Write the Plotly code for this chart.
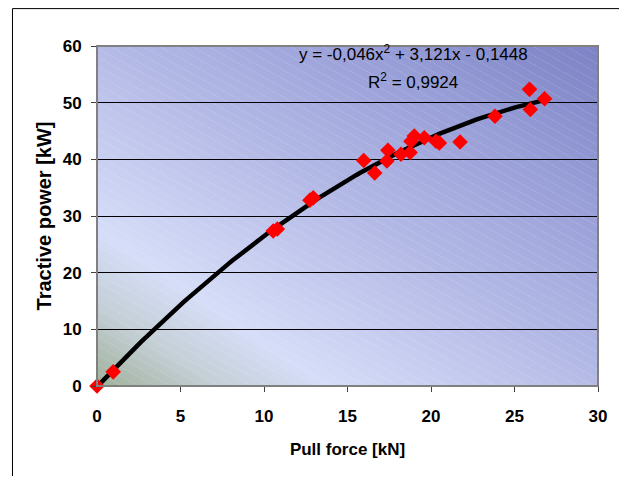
import base64
import numpy as np
import plotly.graph_objects as go

# ---- data ----
pull_force = [0, 0.97, 10.55, 10.8, 12.75, 12.95, 15.97, 16.63, 17.36, 17.42, 18.2,
              18.75, 18.8, 19.0, 19.6, 20.3, 20.5, 21.74, 23.83, 25.9, 25.95, 26.8]
tractive_power = [0, 2.5, 27.35, 27.7, 32.8, 33.2, 39.8, 37.6, 39.7, 41.6, 40.9,
                  41.2, 43.2, 44.1, 43.8, 43.2, 42.9, 43.05, 47.6, 52.35, 48.8, 50.7]
# polynomial trendline coefficients shown on the chart
coef_a, coef_b, coef_c = -0.046, 3.121, -0.1448
eq_text = "y = -0,046x<sup>2</sup> + 3,121x - 0,1448"
r2_text = "R<sup>2</sup> = 0,9924"
x_ticks = [0, 5, 10, 15, 20, 25, 30]
y_ticks = [0, 10, 20, 30, 40, 50, 60]

fit_x = np.linspace(0, max(pull_force), 120)
fit_y = coef_a * fit_x ** 2 + coef_b * fit_x + coef_c

# ---- background (gradient + diagonal hatching) as an SVG image ----
W, H = 504, 340
lines = []
slope = 0.55
step = 9
for c in range(-int(W * slope) - step, H + step, step):
    lines.append(f'<line x1="0" y1="{c}" x2="{W}" y2="{c + W * slope:.1f}" '
                 'stroke="#ffffff" stroke-opacity="0.2" stroke-width="1" stroke-dasharray="1.5,1"/>')
svg = f'''<svg xmlns="http://www.w3.org/2000/svg" width="{W}" height="{H}" viewBox="0 0 {W} {H}">
<defs><linearGradient id="g" x1="0" y1="1" x2="1" y2="0">
<stop offset="0" stop-color="#9fb09a"/>
<stop offset="0.12" stop-color="#c4cfd6"/>
<stop offset="0.23" stop-color="#d6ddf8"/>
<stop offset="0.5" stop-color="#b5bbe6"/>
<stop offset="0.75" stop-color="#9aa0d8"/>
<stop offset="1" stop-color="#7c82c4"/>
</linearGradient></defs>
<rect x="0" y="0" width="{W}" height="{H}" fill="url(#g)"/>
{''.join(lines)}
</svg>'''
bg_src = "data:image/svg+xml;base64," + base64.b64encode(svg.encode()).decode()

FONT = "Liberation Sans, Arial, sans-serif"

fig = go.Figure()
fig.add_trace(go.Scatter(x=fit_x, y=fit_y, mode="lines",
                         line=dict(color="black", width=4.5), hoverinfo="skip",
                         cliponaxis=False))
fig.add_trace(go.Scatter(x=pull_force, y=tractive_power, mode="markers",
                         marker=dict(symbol="diamond", size=12, color="#ff0000"),
                         cliponaxis=False))

fig.add_layout_image(dict(source=bg_src, xref="paper", yref="paper", x=0, y=1,
                          sizex=1, sizey=1, sizing="stretch", layer="below"))

fig.add_annotation(x=18.95, y=58.8, text=eq_text, showarrow=False,
                   font=dict(family=FONT, size=17, color="black"))
fig.add_annotation(x=18.95, y=53.8, text=r2_text, showarrow=False,
                   font=dict(family=FONT, size=17, color="black"))

# plot-area border
fig.add_shape(type="rect", xref="paper", yref="paper", x0=0, y0=0, x1=1, y1=1,
              line=dict(color="#808080", width=2), layer="above")
# outer chart border (only top and left edges are visible in the frame)
fig.add_shape(type="line", xref="paper", yref="paper", x0=-0.1687, y0=1.110, x1=1.2, y1=1.110,
              line=dict(color="black", width=1))
fig.add_shape(type="line", xref="paper", yref="paper", x0=-0.1687, y0=-0.4, x1=-0.1687, y1=1.110,
              line=dict(color="black", width=1))

fig.update_layout(
    width=611, height=468,
    margin=dict(l=89, r=18, t=38, b=90),
    paper_bgcolor="white", plot_bgcolor="rgba(0,0,0,0)",
    showlegend=False,
    font=dict(family=FONT, color="black"),
)
fig.update_xaxes(range=[0, 30], tickvals=x_ticks, ticks="outside", ticklen=5,
                 tickcolor="#404040", showgrid=False, zeroline=False,
                 showline=True, linecolor="#404040", linewidth=1,
                 tickfont=dict(family=FONT, size=17, weight="bold"),
                 ticklabelstandoff=10,
                 title=dict(text="<b>Pull force [kN]</b>", font=dict(family=FONT, size=17),
                            standoff=17))
fig.update_yaxes(range=[0, 60], tickvals=y_ticks, ticks="outside", ticklen=5,
                 tickcolor="#404040", showgrid=True, gridcolor="black", gridwidth=1,
                 zeroline=False, showline=True, linecolor="#404040", linewidth=1,
                 tickfont=dict(family=FONT, size=17, weight="bold"),
                 ticklabelstandoff=6,
                 title=dict(text="<b>Tractive power [kW]</b>", font=dict(family=FONT, size=20),
                            standoff=5))

fig.write_html("out.html")
